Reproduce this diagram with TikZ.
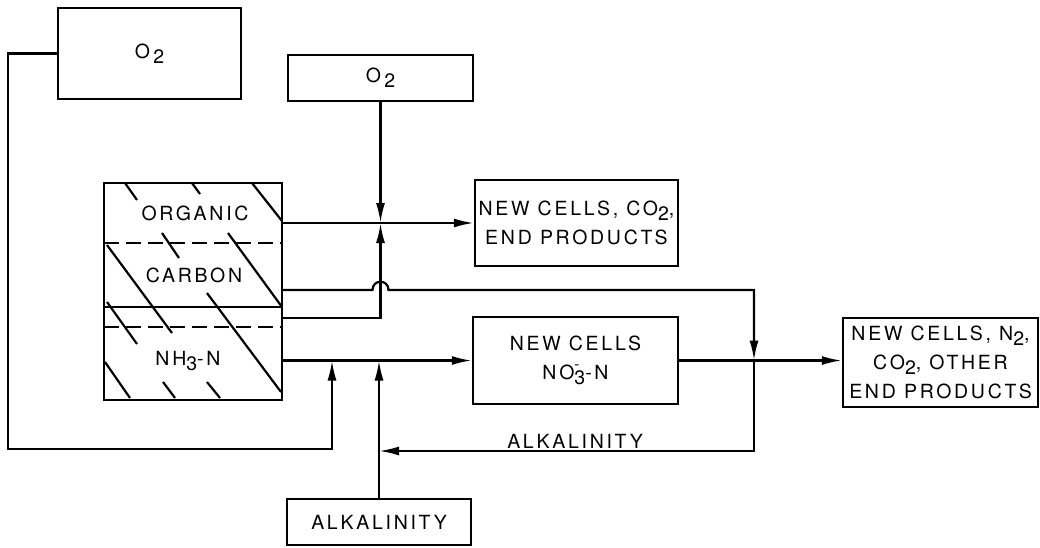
\documentclass[tikz,border=0pt]{standalone}
\usepackage{fontspec}
\usetikzlibrary{arrows.meta}
\newfontfamily\lettering{TeX Gyre Heros}[LetterSpace=14]
\newcommand\dn[1]{\raisebox{-0.45ex}{#1}}
\tikzset{
  procbox/.style={draw=black,line width=2.4pt,inner sep=0pt,align=center},
  procflow/.style={-{Latex[length=20pt,width=9pt]},line width=2.2pt},
  procline/.style={line width=2.2pt},
  tankdash/.style={line width=2.2pt,dash pattern=on 15pt off 7pt},
  every picture/.style={font=\lettering\fontsize{19.5}{29}\selectfont}
}
\begin{document}
\begin{tikzpicture}[x=1pt,y=-1pt]
  \useasboundingbox (0,0) rectangle (1040,548);
  % boxes
  \node[procbox,minimum width=183pt,minimum height=91pt] (o2a) at (149.5,53.5) {O\,\dn{2}};
  \node[procbox,minimum width=185pt,minimum height=46pt] (o2b) at (380.5,78) {O\,\dn{2}};
  \node[procbox,minimum width=178pt,minimum height=217pt] (tank) at (193,291.5) {};
  \node[procbox,minimum width=203pt,minimum height=86pt] (cellsco2) at (576.5,223) {NEW CELLS, CO\dn{2},\\END PRODUCTS};
  \node[procbox,minimum width=205pt,minimum height=87pt] (cellsno3) at (575.5,360.5)
    {NEW CELLS\\NO\makebox[0pt][l]{\raisebox{1.0ex}{\fontsize{15}{15}\selectfont -}}\dn{3}-N};
  \node[procbox,minimum width=195pt,minimum height=89pt] (cellsn2) at (940.5,362.5)
    {NEW CELLS, N\dn{2},\\CO\dn{2}, OTHER\\END PRODUCTS};
  \node[procbox,minimum width=184pt,minimum height=46pt] (alkbox) at (379,522) {ALKALINITY};
  % tank contents
  \draw[tankdash] (104,243) -- (282,243);
  \draw[procline] (104,307) -- (282,307);
  \draw[tankdash] (104,327) -- (282,327);
  \foreach \xa/\ya/\xb/\yb in {125/183/137/200, 192/183/200/194, 252/183/282/221,
      162/233/179/258, 228/233/282/307, 107/245/172/333, 107/302/137/344,
      207/293/281/392, 105/362/130/398, 163/382/175/398, 207/382/220/398}
    \draw[procline] (\xa,\ya) -- (\xb,\yb);
  \node (organic) at (195,213) {ORGANIC};
  \node (carbon) at (194,275) {CARBON};
  \node (nh3) at (188,361) {NH\dn{3}-N};
  % junctions
  \coordinate (mix1) at (o2b.south |- cellsco2.west);
  \coordinate (carbA) at (282,318);
  \coordinate (carbB) at (282,290);
  \coordinate (mix2) at (754,360.5);
  \coordinate (alkin) at (379,451);
  \coordinate (o2in) at (332,360.5);
  % flows
  \draw[procflow] (tank.east |- cellsco2.west) -- (cellsco2.west);
  \draw[procflow] (o2b.south) -- (mix1);
  \draw[procflow] (carbA) -| (mix1);
  \draw[procflow] (carbB) -- (372.5,290) .. controls (372.5,279) and (388.5,279) .. (388.5,290) -| (mix2);
  \draw[procflow] (mix2) |- (alkin);
  \draw[procflow] (tank.east |- cellsno3.west) -- (cellsno3.west);
  \draw[procflow] (cellsno3.east) -- (cellsno3.east -| cellsn2.west);
  \draw[procflow] (alkbox.north) -- (alkbox.north |- cellsno3.west);
  \draw[procflow] (o2a.west) -| (8,449) -| (o2in);
  \node (alklab) at (575,441) {ALKALINITY};
\end{tikzpicture}
\end{document}
